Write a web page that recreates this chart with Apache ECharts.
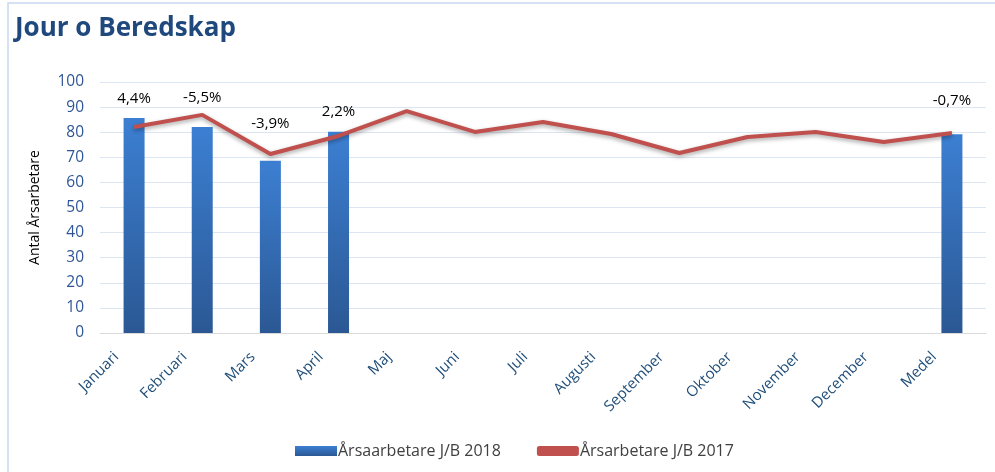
<!DOCTYPE html>
<html><head><meta charset="utf-8">
<script src="https://cdn.jsdelivr.net/npm/echarts@6/dist/echarts.min.js"></script>
<style>html,body{margin:0;padding:0;background:#fff}#c{width:995px;height:472px}</style>
</head><body><div id="c"></div>
<script>
var categories = ['Januari','Februari','Mars','April','Maj','Juni','Juli','Augusti','September','Oktober','November','December','Medel'];
var values2018 = [85.7, 82.1, 68.6, 80.2, null, null, null, null, null, null, null, null, 79.2];
var values2017 = [82.1, 86.9, 71.3, 78.5, 88.4, 80.1, 84.1, 79.3, 71.7, 78.1, 80.1, 76.1, 79.7];
var pctLabels = ['4,4%','-5,5%','-3,9%','2,2%','','','','','','','','','-0,7%'];
var yTicks = [0,10,20,30,40,50,60,70,80,90,100];
// label lift (px above bar top), layout only
var labelLift = [12, 22, 30, 12, 0,0,0,0,0,0,0,0, 26];

var barGrad = new echarts.graphic.LinearGradient(0,0,0,1,[{offset:0,color:'#3c7fd2'},{offset:1,color:'#2b5894'}]);
var font = '"Open Sans", "Noto Sans", sans-serif';

var chart = echarts.init(document.getElementById('c'));
chart.setOption({
  animation:false,
  title:{text:'Jour o Beredskap', left:10, top:11, textStyle:{fontFamily:font, fontSize:26, fontWeight:'bold', color:'#1f497d'}},
  graphic:[{type:'rect', shape:{x:8,y:3,width:1000,height:500}, style:{fill:'none', stroke:'#c6d9f1', lineWidth:1.5}, silent:true}],
  legend:{bottom:8, left:290, itemGap:36, itemWidth:42, itemHeight:10,
    textStyle:{fontFamily:font, fontSize:16, color:'#404040', padding:[0,0,0,-4]},
    data:[{name:'Årsaarbetare J/B 2018', icon:'rect'},{name:'Årsarbetare J/B 2017', icon:'roundRect', itemStyle:{color:'#c0504d'}}]},
  grid:{left:100, right:9, top:82, bottom:139},
  xAxis:{type:'category', data:categories,
    axisLine:{lineStyle:{color:'#d9d9d9'}}, axisTick:{show:false},
    axisLabel:{rotate:45, interval:0, fontFamily:font, fontSize:15, color:'#1f4e79', margin:4, padding:[0,25,0,0]}},
  yAxis:{type:'value', min:0, max:100, interval:10,
    name:'Antal Årsarbetare', nameLocation:'middle', nameGap:58, nameRotate:90,
    nameTextStyle:{fontFamily:font, fontSize:14, color:'#000'},
    axisLine:{show:false}, axisTick:{show:false},
    axisLabel:{fontFamily:font, fontSize:15.5, color:'#2f5597', margin:16,
      formatter:function(v){return yTicks.indexOf(v)>=0?String(v):'';}},
    splitLine:{lineStyle:{color:'#dce6f2', width:1}}},
  series:[
    {name:'Årsaarbetare J/B 2018', type:'bar', barWidth:21,
      itemStyle:{color:barGrad},
      data: values2018.map(function(v,i){
        return {value:v, label:{show:!!pctLabels[i], position:'top', distance:labelLift[i],
          formatter:pctLabels[i], fontFamily:font, fontSize:15, color:'#000'}};
      })},
    {name:'Årsarbetare J/B 2017', type:'line', data:values2017, symbol:'none', z:3,
      lineStyle:{color:'#c0504d', width:4, shadowColor:'rgba(0,0,0,0.35)', shadowBlur:4, shadowOffsetY:2},
      itemStyle:{color:'#c0504d'}}
  ]
});
</script></body></html>
